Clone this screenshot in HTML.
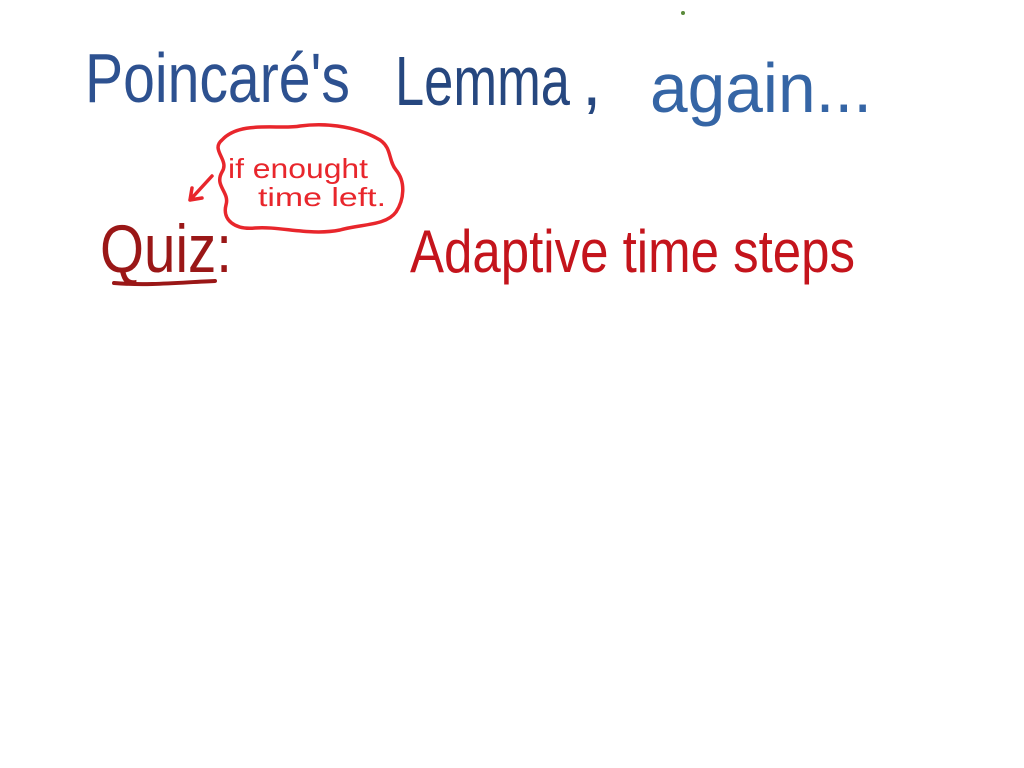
<!DOCTYPE html>
<html><head><meta charset="utf-8"><style>
html,body{margin:0;padding:0;background:#fff;width:1024px;height:768px;overflow:hidden}
svg text{font-family:"Liberation Sans",sans-serif}
</style></head><body>
<svg width="1024" height="768" viewBox="0 0 1024 768">
<circle cx="683" cy="13" r="2" fill="#5a8a3a"/>
<g fill="#2d5190">
<text x="85" y="102" font-size="70" textLength="265" lengthAdjust="spacingAndGlyphs">Poincaré's</text>
<text x="395" y="105" font-size="70" fill="#26477f" textLength="175" lengthAdjust="spacingAndGlyphs">Lemma</text>
<text x="582" y="105" font-size="70" fill="#26477f">,</text>
<text x="650" y="112" font-size="70" fill="#3565a5" textLength="222" lengthAdjust="spacingAndGlyphs">again...</text>
</g>
<g>
<path d="M222,140 C240,120 280,130 300,126 C330,122 360,128 380,140 C392,148 388,160 396,170 C406,182 404,200 396,212 C386,226 360,224 340,230 C310,236 280,226 255,228 C235,230 222,220 226,205 C230,192 214,186 222,172 C230,160 210,150 222,140 Z" fill="none" stroke="#e8262c" stroke-width="3.5"/>
<path d="M212,176 L190,200 M190,200 L192,188 M190,200 L202,198" fill="none" stroke="#e8262c" stroke-width="3.5" stroke-linecap="round"/>
<text x="228" y="178" font-size="28" fill="#e8262c" textLength="140" lengthAdjust="spacingAndGlyphs">if enought</text>
<text x="258" y="206" font-size="26" fill="#e8262c" textLength="128" lengthAdjust="spacingAndGlyphs">time left.</text>
</g>
<text x="100" y="272" font-size="68" fill="#9a1717" textLength="132" lengthAdjust="spacingAndGlyphs">Quiz:</text>
<path d="M114,283 C150,286 185,282 215,281" fill="none" stroke="#9a1717" stroke-width="4" stroke-linecap="round"/>
<text x="410" y="272" font-size="60" fill="#c4141c" textLength="445" lengthAdjust="spacingAndGlyphs">Adaptive time steps</text>
</svg>
</body></html>
